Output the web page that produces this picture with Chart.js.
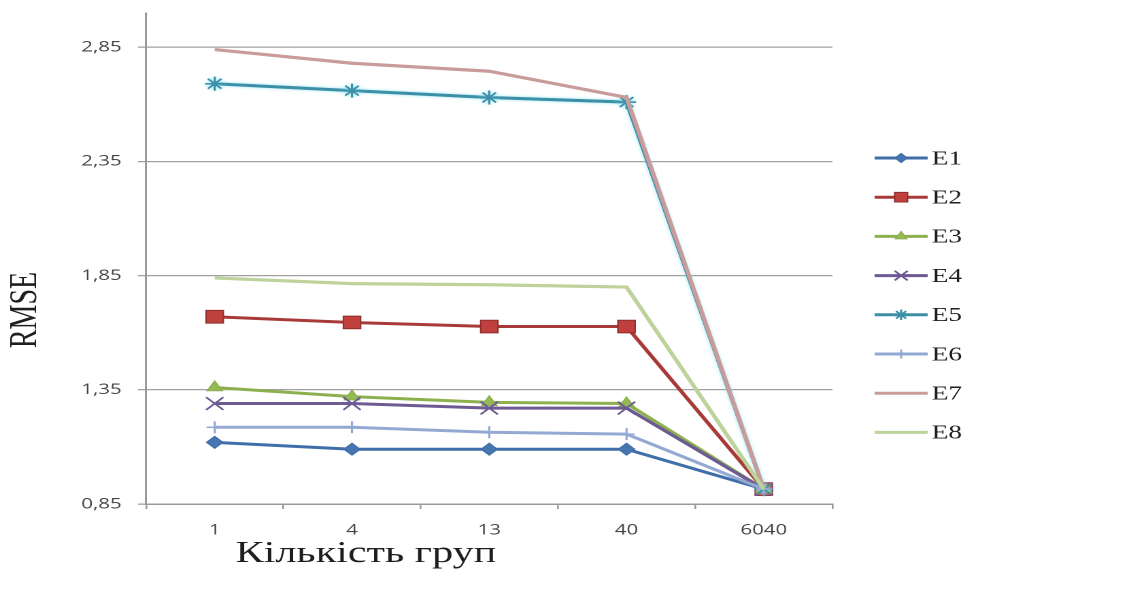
<!DOCTYPE html>
<html>
<head>
<meta charset="utf-8">
<script src="https://cdn.jsdelivr.net/npm/chart.js@4/dist/chart.umd.min.js"></script>
<style>
  html, body { margin: 0; padding: 0; background: #ffffff; overflow: hidden; }
  /* the chart is laid out narrow and widened horizontally, like the stretched original figure */
  #wrap { width: 844px; height: 592px; transform: scaleX(1.3602); transform-origin: 0 0; }
</style>
</head>
<body>
<div id="wrap"><canvas id="rmse" width="844" height="592"></canvas></div>
<script>
// Number of groups (x categories)
const groupCounts = ['1', '4', '13', '40', '6040'];
// Y axis tick values
const yTickValues = [0.85, 1.35, 1.85, 2.35, 2.85];
// Series names
const seriesNames = ['E1', 'E2', 'E3', 'E4', 'E5', 'E6', 'E7', 'E8'];
// RMSE per series
const e1 = [1.12, 1.09, 1.09, 1.09, 0.915];
const e2 = [1.67, 1.645, 1.627, 1.627, 0.915];
const e3 = [1.36, 1.32, 1.295, 1.29, 0.915];
const e4 = [1.29, 1.29, 1.27, 1.27, 0.915];
const e5 = [2.69, 2.66, 2.63, 2.61, 0.915];
const e6 = [1.186, 1.186, 1.164, 1.156, 0.915];
const e7 = [2.84, 2.78, 2.745, 2.63, 0.915];
const e8 = [1.84, 1.815, 1.81, 1.80, 0.915];

const xTitle = 'Кількість груп';
const yTitle = 'RMSE';

const seriesValues = [e1, e2, e3, e4, e5, e6, e7, e8];
const lineColors   = ['#3F6FA9', '#A83B39', '#8DB04F', '#6E5A93', '#3C8FA6', '#93A9D4', '#C99C9C', '#BDD39B'];
const fillColors   = ['#4675B0', '#C0403D', '#96B955', '#7A64A0', '#4AA2BC', '#93A9D4', '#C99C9C', '#BDD39B'];
const markerShapes = ['rectRot', 'rect', 'triangle', 'crossRot', 'star', 'cross', 'circle', 'circle'];
const markerSizes  = [6, 9, 6.5, 9, 7, 6, 0, 0];

const datasets = seriesNames.map((name, i) => ({
  label: name,
  data: seriesValues[i],
  borderColor: lineColors[i],
  backgroundColor: fillColors[i],
  borderWidth: i >= 6 ? 3.2 : 3,
  pointStyle: markerShapes[i],
  pointRadius: markerSizes[i],
  pointHoverRadius: markerSizes[i],
  pointBorderColor: i === 1 ? '#8E2E2C' : lineColors[i],
  pointBackgroundColor: fillColors[i],
  pointBorderWidth: (i === 3 || i === 4 || i === 5) ? 1.6 : 1,
  tension: 0,
  order: seriesNames.length - i   // later series drawn on top
}));

// soft cyan glow under the E5 line
const glowPlugin = {
  id: 'glow',
  beforeDatasetDraw(chart, args) {
    if (args.index === 4) {
      chart.ctx.save();
      chart.ctx.shadowColor = 'rgba(140, 225, 245, 0.9)';
      chart.ctx.shadowBlur = 6;
    }
  },
  afterDatasetDraw(chart, args) {
    if (args.index === 4) chart.ctx.restore();
  }
};

// axis titles and the series key on the right
const sidePlugin = {
  id: 'sideText',
  afterDraw(chart) {
    const ctx = chart.ctx;
    ctx.save();
    ctx.fillStyle = '#1e1e1e';
    ctx.font = '31px "Liberation Serif", "DejaVu Serif", serif';
    ctx.textAlign = 'center';
    ctx.textBaseline = 'alphabetic';
    ctx.fillText(xTitle, 269, 562);

    ctx.save();
    ctx.translate(19, 310);
    ctx.rotate(-Math.PI / 2);
    ctx.font = '28px "Liberation Serif", "DejaVu Serif", serif';
    ctx.textBaseline = 'middle';
    ctx.fillText(yTitle, 0, 0);
    ctx.restore();

    const x0 = 643, x1 = 682, top = 158, step = 39.2;
    chart.data.datasets.forEach((ds, i) => {
      const y = top + i * step;
      ctx.strokeStyle = ds.borderColor;
      ctx.lineWidth = 3;
      ctx.beginPath();
      ctx.moveTo(x0, y);
      ctx.lineTo(x1, y);
      ctx.stroke();
      if (ds.pointRadius > 0 && Chart.helpers && Chart.helpers.drawPoint) {
        ctx.fillStyle = ds.pointBackgroundColor;
        ctx.strokeStyle = ds.pointBorderColor;
        ctx.lineWidth = ds.pointBorderWidth;
        Chart.helpers.drawPoint(ctx, {
          pointStyle: ds.pointStyle,
          radius: ds.pointRadius * 0.75,
          rotation: 0,
          borderWidth: ds.pointBorderWidth
        }, (x0 + x1) / 2, y);
      }
      ctx.fillStyle = '#1e1e1e';
      ctx.font = '20px "Liberation Serif", "DejaVu Serif", serif';
      ctx.textAlign = 'left';
      ctx.textBaseline = 'middle';
      ctx.fillText(ds.label, 685, y + 1);
    });
    ctx.restore();
  }
};

new Chart(document.getElementById('rmse'), {
  type: 'line',
  data: { labels: groupCounts, datasets },
  options: {
    responsive: false,
    animation: false,
    devicePixelRatio: 2,
    layout: { padding: { top: 13, right: 232, bottom: 0, left: 0 } },
    plugins: { legend: { display: false }, tooltip: { enabled: false } },
    scales: {
      x: {
        offset: true,
        grid: { offset: true, drawOnChartArea: false, drawTicks: true, tickLength: 5, color: '#9a9a9a', lineWidth: 1.3 },
        border: { color: '#9a9a9a', width: 1.5 },
        ticks: { color: '#454545', padding: 12, font: { family: '"Open Sans", "Liberation Sans", sans-serif', size: 15 } },
        afterFit(scale) { scale.height = 88; scale.paddingLeft = 0; scale.paddingRight = 0; }
      },
      y: {
        min: 0.85,
        max: 3.0,
        afterBuildTicks(scale) { scale.ticks = yTickValues.map(v => ({ value: v })); },
        grid: { color: '#a0a0a0', lineWidth: 1.3, tickLength: 6, drawTicks: true },
        border: { color: '#9a9a9a', width: 1.5 },
        ticks: {
          color: '#454545',
          padding: 12,
          font: { family: '"Open Sans", "Liberation Sans", sans-serif', size: 15 },
          callback: v => Number(v).toFixed(2).replace('.', ',')
        },
        afterFit(scale) { scale.width = 107.4; scale.paddingTop = 0; scale.paddingBottom = 0; }
      }
    }
  },
  plugins: [glowPlugin, sidePlugin]
});
</script>
</body>
</html>
